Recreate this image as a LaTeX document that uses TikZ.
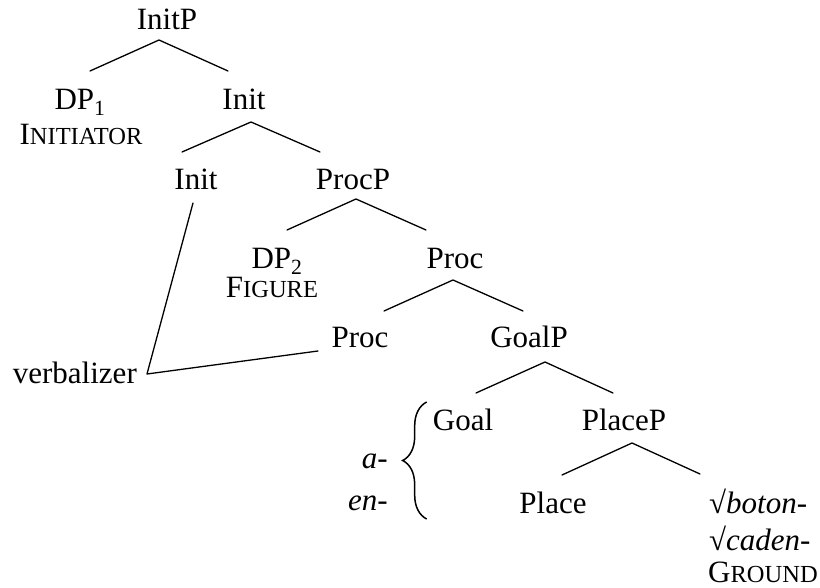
\documentclass[tikz,border=0pt]{standalone}
\usepackage{fontspec}
\setmainfont{Liberation Serif}
\usetikzlibrary{decorations.pathreplacing}
% small capitals built from a full-size initial and reduced capitals
\newcommand\fakesc[2]{#1{\fontsize{24.5}{28}\selectfont #2}}
\begin{document}
\begin{tikzpicture}[x=1pt,y=-1pt,
  lbl/.style={inner sep=0pt, anchor=base, font=\fontsize{31}{37}\selectfont},
  lblw/.style={lbl, anchor=base west},
  lble/.style={lbl, anchor=base east},
  branch/.style={line width=1.3pt, line cap=round, line join=round}]
\useasboundingbox (0,0) rectangle (820,588);

% labels
\node[lbl] (InitP)  at (167,30)  {InitP};
\node[lbl] (dpone)  at (80,110)  {DP\textsubscript{1}};
\node[lbl] (initiator) at (81,145) {\fakesc{I}{NITIATOR}};
\node[lbl] (InitA)  at (244,110) {Init};
\node[lbl] (InitB)  at (196,190) {Init};
\node[lbl] (ProcP)  at (353,190) {ProcP};
\node[lbl] (dptwo)  at (277,269) {DP\textsubscript{2}};
\node[lbl] (figure) at (272,298) {\fakesc{F}{IGURE}};
\node[lbl] (ProcA)  at (455,269) {Proc};
\node[lbl] (ProcB)  at (360,348) {Proc};
\node[lbl] (GoalP)  at (529,348) {GoalP};
\node[lbl] (Goal)   at (463,430) {Goal};
\node[lbl] (PlaceP) at (624,430) {PlaceP};
\node[lbl] (Place)  at (553,513) {Place};
\node[lblw] (boton) at (709,513) {√\textit{boton-}};
\node[lblw] (caden) at (709,550) {√\textit{caden-}};
\node[lblw] (ground) at (708,582) {\fakesc{G}{ROUND}};
\node[lble] (verb)  at (137,384) {verbalizer};
\node[lble] (pa)    at (388,468) {\textit{a-}};
\node[lble] (pen)   at (388,510) {\textit{en-}};

% branches
\draw[branch] ([xshift=10pt,yshift=39pt]dpone.base)
  -- ([xshift=-8pt,yshift=-10pt]InitP.base)
  -- ([xshift=-16pt,yshift=39pt]InitA.base);
\draw[branch] ([xshift=-14pt,yshift=38pt]InitB.base)
  -- ([xshift=7pt,yshift=-12pt]InitA.base)
  -- ([xshift=-33pt,yshift=38pt]ProcP.base);
\draw[branch] ([xshift=10pt,yshift=39pt]dptwo.base)
  -- ([xshift=3pt,yshift=-9pt]ProcP.base)
  -- ([xshift=-29pt,yshift=39pt]ProcA.base);
\draw[branch] ([xshift=24pt,yshift=37pt]ProcB.base)
  -- ([xshift=-2pt,yshift=-11pt]ProcA.base)
  -- ([xshift=-6pt,yshift=37pt]GoalP.base);
\draw[branch] ([xshift=13pt,yshift=37pt]Goal.base)
  -- ([xshift=16pt,yshift=-14pt]GoalP.base)
  -- ([xshift=-11pt,yshift=37pt]PlaceP.base);
\draw[branch] ([xshift=9pt,yshift=38pt]Place.base)
  -- ([xshift=8pt,yshift=-13pt]PlaceP.base)
  -- ([xshift=-9pt,yshift=39pt]boton.base west);

% the verbalizer link
\draw[branch] ([xshift=-3pt,yshift=-13pt]InitB.base)
  -- ([xshift=10pt,yshift=10pt]verb.base east)
  -- ([xshift=-42pt,yshift=-3pt]ProcB.base);

% brace grouping the prefixes
\draw[line width=1.5pt, decorate, decoration={brace, amplitude=24pt}]
  ([xshift=-6pt,yshift=-3pt]Goal.base west |- pen.base) ++(0,6)
  -- ([xshift=-6pt,yshift=28pt]Goal.base west);
\end{tikzpicture}
\end{document}
